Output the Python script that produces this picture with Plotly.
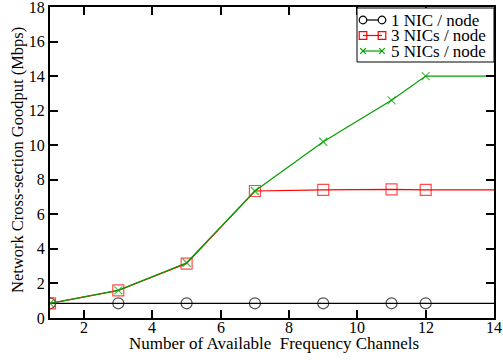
import plotly.graph_objects as go

channels = [1, 3, 5, 7, 9, 11, 12, 14]
nic1 = [0.85, 0.85, 0.85, 0.85, 0.85, 0.85, 0.85, 0.85]
nic3 = [0.85, 1.6, 3.15, 7.35, 7.42, 7.45, 7.42, 7.42]
nic5 = [0.85, 1.6, 3.2, 7.35, 10.2, 12.6, 14.0, 14.0]
names = ["1 NIC / node", "3 NICs / node", "5 NICs / node"]
xticks = [2, 4, 6, 8, 10, 12, 14]
yticks = [0, 2, 4, 6, 8, 10, 12, 14, 16, 18]
x_title = "Number of Available  Frequency Channels"
y_title = "Network Cross-section Goodput (Mbps)"

W, H = 503, 360
L, R, T, B = 50, 9, 7, 42
PW, PH = W - L - R, H - T - B


def fx(px):
    return (px - L) / PW


def fy(py):
    return (H - B - py) / PH


font = "'Liberation Serif', 'Times New Roman', serif"
fig = go.Figure()
styles = [
    (nic1, "black", "circle-open", 11),
    (nic3, "red", "square-open", 11),
    (nic5, "#00a000", "x-thin-open", 8),
]
for name, (ys, col, sym, sz) in zip(names, styles):
    sizes = [sz] * (len(channels) - 1) + [0]
    fig.add_trace(go.Scatter(
        x=channels, y=ys, name=name, mode="lines+markers", showlegend=False,
        line=dict(color=col, width=1.2),
        marker=dict(symbol=sym, size=sizes, color=col, line=dict(color=col, width=1.2)),
    ))

axis_common = dict(
    showgrid=False, zeroline=False, showline=True, linecolor="black", linewidth=2,
    mirror="ticks", ticks="inside", ticklen=8, tickwidth=1.5, tickcolor="black",
    tickfont=dict(family=font, size=16, color="black"), automargin=False,
    ticklabeloverflow="allow",
)
fig.update_xaxes(range=[1, 14], tickvals=xticks, showticklabels=False, **axis_common)
fig.update_yaxes(range=[0, 18], tickvals=yticks, **axis_common)

shapes = []
annotations = [
    dict(text=x_title, xref="paper", yref="paper", x=fx((L + W - R) / 2 + 2), y=fy(343),
         xanchor="center", yanchor="middle", showarrow=False,
         font=dict(family=font, size=17, color="black")),
    dict(text=y_title, xref="paper", yref="paper", x=fx(17), y=fy(160),
         xanchor="center", yanchor="middle", showarrow=False, textangle=-90,
         font=dict(family=font, size=16.5, color="black")),
]
for t in xticks:
    annotations.append(dict(text=str(t), xref="x", yref="paper", x=t, y=fy(328),
                            xanchor="center", yanchor="middle", showarrow=False,
                            font=dict(family=font, size=16, color="black")))
# legend box
shapes.append(dict(type="rect", xref="paper", yref="paper", x0=fx(357), x1=fx(494),
                   y0=fy(62), y1=fy(8), fillcolor="white", line=dict(color="black", width=1),
                   layer="above"))
rows = [20, 35.5, 51]
m1, m2 = 363, 382
for name, (ys, col, sym, sz), ry in zip(names, styles, rows):
    shapes.append(dict(type="line", xref="paper", yref="paper", x0=fx(m1), x1=fx(m2),
                       y0=fy(ry), y1=fy(ry), line=dict(color=col, width=1.2), layer="above"))
    for mx in (m1, m2):
        r = 3.8
        if sym == "circle-open":
            shapes.append(dict(type="circle", xref="paper", yref="paper",
                               x0=fx(mx - r), x1=fx(mx + r), y0=fy(ry + r), y1=fy(ry - r),
                               fillcolor="white", line=dict(color=col, width=1.2), layer="above"))
        elif sym == "square-open":
            shapes.append(dict(type="rect", xref="paper", yref="paper",
                               x0=fx(mx - r), x1=fx(mx + r), y0=fy(ry + r), y1=fy(ry - r),
                               fillcolor="rgba(0,0,0,0)", line=dict(color=col, width=1.2), layer="above"))
        else:
            q = 2.8
            shapes.append(dict(type="line", xref="paper", yref="paper",
                               x0=fx(mx - q), x1=fx(mx + q), y0=fy(ry - q), y1=fy(ry + q),
                               line=dict(color=col, width=1.2), layer="above"))
            shapes.append(dict(type="line", xref="paper", yref="paper",
                               x0=fx(mx - q), x1=fx(mx + q), y0=fy(ry + q), y1=fy(ry - q),
                               line=dict(color=col, width=1.2), layer="above"))
    annotations.append(dict(text=name, xref="paper", yref="paper", x=fx(389), y=fy(ry),
                            xanchor="left", yanchor="middle", showarrow=False,
                            font=dict(family=font, size=17, color="black")))

fig.update_layout(
    width=W, height=H, margin=dict(l=L, r=R, t=T, b=B),
    plot_bgcolor="white", paper_bgcolor="white",
    font=dict(family=font, size=16, color="black"),
    shapes=shapes, annotations=annotations, showlegend=False,
)
fig.write_html("out.html", config={"displayModeBar": False},
               post_script="document.body.style.margin='0';document.body.style.overflow='hidden';")
